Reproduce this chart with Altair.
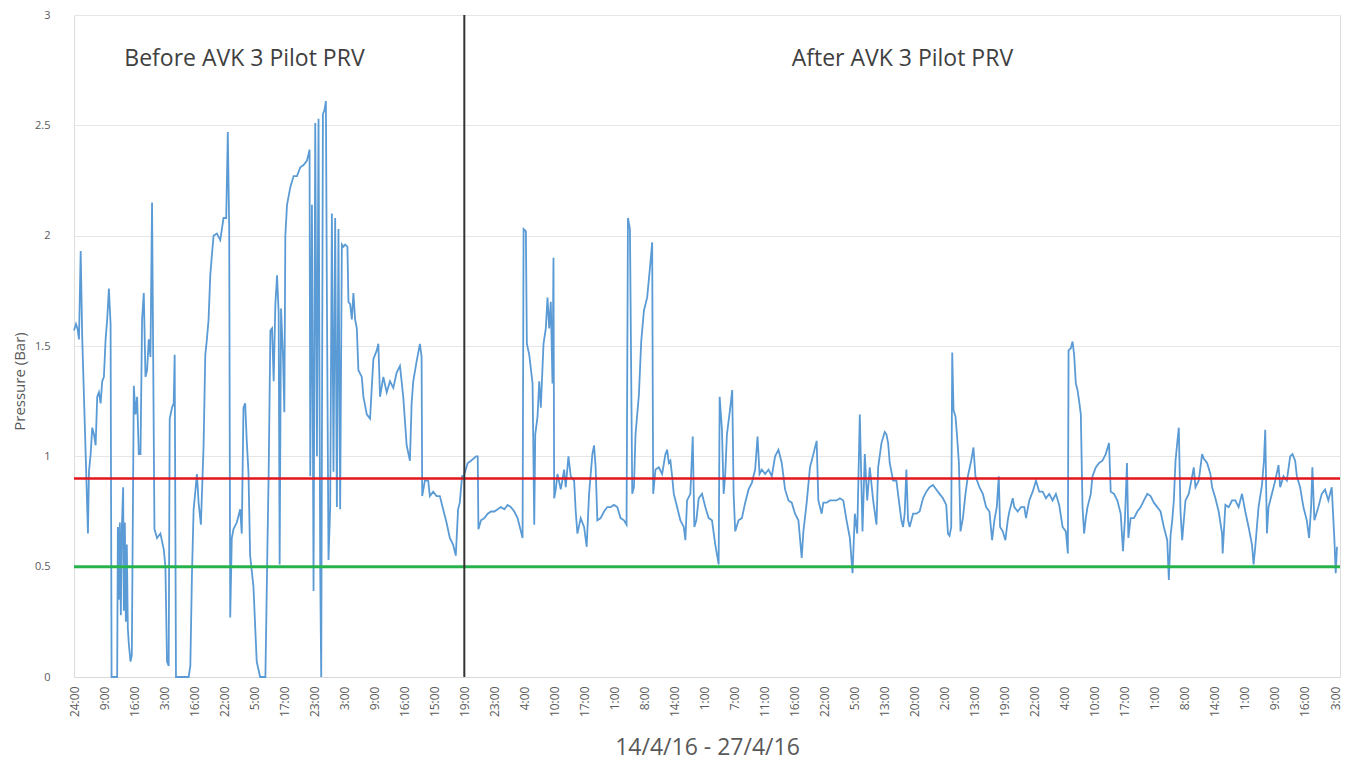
import altair as alt
import pandas as pd

# ---------------- data ----------------
X_LABELS = ["24:00", "9:00", "16:00", "3:00", "16:00", "22:00", "5:00", "17:00", "23:00", "3:00",
            "9:00", "16:00", "15:00", "19:00", "23:00", "4:00", "10:00", "17:00", "1:00", "8:00",
            "14:00", "1:00", "7:00", "11:00", "16:00", "22:00", "5:00", "13:00", "20:00", "2:00",
            "13:00", "19:00", "22:00", "4:00", "10:00", "17:00", "1:00", "8:00", "14:00", "1:00",
            "9:00", "16:00", "3:00"]
LAST_LABEL_READING = 1265          # reading number carrying the last axis label
READING_DOMAIN = [0, 1270]
DIVIDER_LABEL_INDEX = 13           # "19:00" : valve installed

BEFORE_READING = [
    0, 2, 3.5, 5, 6.7, 8.3, 10, 11.7, 13.3, 14,
    15, 16.7, 18.3, 20, 21.7, 23.3, 25, 26.7, 28.3, 30,
    31.7, 33.3, 35, 36.7, 37.7, 40, 43.3, 44, 45, 46,
    47, 48, 49.3, 50, 51, 52, 53, 54, 55, 56.7,
    58, 60, 61.7, 63.3, 65, 66.7, 68.3, 70, 71.7, 73.3,
    75, 76.7, 78.3, 79.3, 80.7, 83.3, 86.7, 90, 91.7, 93.3,
    95, 96, 98.3, 100, 101, 102.3, 108, 115, 116.7, 118.3,
    120, 121.7, 123.3, 125, 127.3, 130, 131.7, 133.3, 135, 136.7,
    138.3, 140, 143.3, 146.7, 150, 152.7, 154.3, 155.7, 156.7, 158.3,
    160, 163.3, 166.7, 168.3, 170, 171.7, 173.3, 175, 176.7, 180,
    183.3, 186.7, 192, 194, 195.3, 197, 198.7, 200.3, 202, 203.7,
    205.3, 206.3, 207.7, 209.7, 211, 212, 213.7, 217, 220.3, 223.7,
    227, 230.3, 233.7, 236.3, 237, 238.7, 240.3, 242, 243.7, 245.3,
    247, 248, 249.7, 251.3, 252.7, 253.7, 255.3, 257, 258.7, 260.3,
    262, 263.7, 265.3, 267, 268.7, 270.3, 272, 274.3, 275.3, 277,
    278.7, 280.3, 282, 283.7, 285.3, 288.7, 290.3, 293.7, 297, 300.3,
    303.7, 305.3, 307, 310.3, 313.7, 317, 320.3, 323.7, 327, 330.3,
    333.7, 337, 338.7, 340.3, 343.7, 347, 348.7, 349.3, 352, 355.3,
    357, 360.3, 363.7, 367, 370.3, 373.7, 377, 380.3, 383, 385.3,
    387, 389.3]
BEFORE_PRESSURE = [
    1.57, 1.60, 1.58, 1.53, 1.93, 1.53, 1.27, 1.01, 0.76, 0.65,
    0.93, 1.01, 1.13, 1.10, 1.05, 1.27, 1.29, 1.24, 1.34, 1.36,
    1.53, 1.62, 1.76, 1.60, 0, 0, 0, 0.68, 0.35, 0.70,
    0.28, 0.68, 0.86, 0.30, 0.70, 0.25, 0.60, 0.22, 0.15, 0.07,
    0.10, 1.32, 1.19, 1.27, 1.01, 1.01, 1.62, 1.74, 1.36, 1.39,
    1.53, 1.45, 2.15, 1.53, 0.67, 0.63, 0.65, 0.58, 0.50, 0.07,
    0.05, 1.17, 1.22, 1.24, 1.46, 0, 0, 0, 0.05, 0.46,
    0.76, 0.84, 0.92, 0.79, 0.69, 1.05, 1.46, 1.53, 1.62, 1.82,
    1.91, 2.00, 2.01, 1.98, 2.08, 2.08, 2.47, 2.03, 0.27, 0.63,
    0.67, 0.70, 0.76, 0.65, 1.22, 1.24, 1.07, 0.93, 0.55, 0.41,
    0.07, 0, 0, 0.58, 0.93, 1.57, 1.58, 1.34, 1.69, 1.82,
    1.65, 0.51, 1.67, 1.45, 1.20, 2.00, 2.14, 2.22, 2.27, 2.27,
    2.31, 2.32, 2.34, 2.39, 0.91, 2.14, 0.39, 2.51, 1.00, 2.53,
    0.48, 0, 2.55, 2.57, 2.61, 1.72, 0.53, 0.77, 2.10, 0.93,
    2.08, 0.77, 2.03, 0.76, 1.96, 1.95, 1.96, 1.95, 1.70, 1.69,
    1.62, 1.74, 1.62, 1.58, 1.39, 1.36, 1.27, 1.19, 1.17, 1.44,
    1.48, 1.51, 1.27, 1.36, 1.29, 1.34, 1.31, 1.38, 1.41, 1.27,
    1.05, 0.98, 1.24, 1.34, 1.43, 1.51, 1.45, 0.82, 0.89, 0.89,
    0.82, 0.84, 0.82, 0.82, 0.76, 0.70, 0.63, 0.60, 0.55, 0.76,
    0.79, 0.91]

AFTER_READING = [
    391, 395, 398.3, 403.3, 405, 405.7, 408.3, 411.7, 415, 418.3,
    421.7, 425, 428.3, 431.7, 435, 438.3, 441.7, 445, 448.3, 450,
    451, 453.3, 454.3, 456.7, 460, 461.7, 462.7, 465, 466.7, 468.3,
    471, 473.3, 475, 476.7, 478.3, 480, 481, 481.7, 483.3, 485,
    488.3, 491.7, 493.3, 496, 498.3, 501.7, 503.3, 505, 508.3, 511.7,
    514.3, 516.7, 520, 521.7, 523.3, 525, 528.3, 531.7, 535, 538.3,
    541.7, 545, 548.3, 551.7, 554.3, 555.7, 557.7, 560, 561.7, 563.3,
    566.7, 569, 571.7, 575, 578.3, 580, 581, 583.3, 586.7, 590,
    593.3, 595, 596.7, 598.3, 600, 601.7, 605, 608.3, 611.7, 613.3,
    615, 618.3, 620.7, 622.3, 624.3, 626.7, 630, 633.3, 636.7, 640,
    643.3, 646.7, 647.7, 650, 651.7, 653.3, 655, 658.3, 660.3, 661.7,
    663.3, 666.7, 670, 673.3, 676.7, 680, 683.3, 685.7, 687.7, 690,
    693.3, 696.7, 700, 703.3, 706.7, 710, 713.3, 716.7, 720, 723.3,
    726.7, 730, 731.7, 735, 738.3, 741.7, 745, 746.7, 750, 751.7,
    755, 758.3, 761.7, 765, 768.3, 771.7, 775, 778.3, 781, 783.3,
    785.7, 788.3, 791, 793.3, 795.7, 798.3, 801.7, 805, 806.7, 810,
    813.3, 815, 816.7, 818.3, 821.7, 825, 828.3, 830, 831.7, 833.3,
    835, 836.7, 838.3, 841.7, 845, 848.3, 851.7, 855, 858.3, 861.7,
    865, 868.3, 871.7, 875, 876.7, 878.3, 880, 881, 882.3, 884.3,
    885.7, 887.7, 889.3, 891.7, 894.3, 896.7, 900, 902.3, 904.3, 906.7,
    908.3, 911.7, 915, 918.3, 921, 923.3, 925.7, 927.7, 929, 931.7,
    934.3, 936.7, 938.3, 941.7, 943.3, 946.7, 950, 953.3, 955, 958.3,
    961.7, 965, 968.3, 971.7, 975, 978.3, 981.7, 985, 988.3, 991.7,
    995, 997, 997.7, 1000, 1001.7, 1003.3, 1005, 1006.7, 1008.3, 1010,
    1011.7, 1013.3, 1015, 1016.7, 1020, 1021.7, 1025, 1028.3, 1031.7, 1035,
    1038.3, 1040, 1043.3, 1046.7, 1050, 1052.3, 1054.3, 1056.3, 1057.7, 1060,
    1063.3, 1066.7, 1070, 1073.3, 1076.7, 1080, 1083.3, 1086.7, 1090, 1093.3,
    1096.7, 1098.3, 1100, 1101.7, 1103.3, 1105, 1106.7, 1108.3, 1110, 1111.7,
    1113.3, 1115, 1118.3, 1121.7, 1123.3, 1125, 1128.3, 1131.7, 1133.3, 1136.7,
    1140, 1141.7, 1145, 1148.3, 1151.7, 1152.3, 1155, 1158.3, 1161.7, 1165,
    1168.3, 1171.7, 1175, 1178.3, 1181.7, 1183.3, 1185, 1188.3, 1191.7, 1193.7,
    1195, 1196.7, 1198.3, 1201.7, 1205, 1208.3, 1210, 1213.3, 1216.7, 1220,
    1222.3, 1225, 1226.7, 1230, 1233.3, 1236.7, 1239, 1241, 1242.3, 1244.3,
    1248.3, 1251.7, 1255, 1258.3, 1261.7, 1264.3, 1265.7, 1267]
AFTER_PRESSURE = [
    0.91, 0.97, 0.98, 1.00, 1.00, 0.67, 0.71, 0.72, 0.74, 0.75,
    0.75, 0.76, 0.77, 0.76, 0.78, 0.77, 0.75, 0.72, 0.66, 0.63,
    2.03, 2.02, 1.51, 1.46, 1.33, 0.69, 1.10, 1.18, 1.34, 1.22,
    1.51, 1.58, 1.72, 1.58, 1.70, 1.33, 1.90, 0.81, 0.85, 0.92,
    0.85, 0.94, 0.86, 1.00, 0.91, 0.89, 0.75, 0.65, 0.72, 0.68,
    0.59, 0.83, 1.01, 1.05, 0.95, 0.71, 0.72, 0.75, 0.77, 0.77,
    0.78, 0.77, 0.72, 0.71, 0.69, 2.08, 2.03, 0.83, 0.86, 1.10,
    1.28, 1.52, 1.66, 1.72, 1.88, 1.97, 0.83, 0.94, 0.95, 0.92,
    1.01, 1.03, 0.97, 0.98, 0.91, 0.83, 0.77, 0.71, 0.68, 0.62,
    0.80, 0.83, 1.09, 0.68, 0.71, 0.81, 0.83, 0.77, 0.72, 0.71,
    0.60, 0.51, 1.27, 1.12, 0.83, 0.92, 1.10, 1.22, 1.30, 0.83,
    0.66, 0.71, 0.72, 0.79, 0.85, 0.88, 0.94, 1.09, 0.92, 0.94,
    0.92, 0.94, 0.91, 1.00, 1.03, 0.97, 0.85, 0.80, 0.79, 0.74,
    0.71, 0.54, 0.66, 0.79, 0.95, 1.01, 1.07, 0.80, 0.74, 0.79,
    0.79, 0.80, 0.80, 0.80, 0.81, 0.80, 0.71, 0.63, 0.47, 0.74,
    0.65, 1.19, 0.66, 1.01, 0.80, 0.95, 0.80, 0.69, 0.95, 1.06,
    1.11, 1.10, 1.06, 0.97, 0.89, 0.89, 0.77, 0.71, 0.68, 0.74,
    0.94, 0.71, 0.68, 0.74, 0.74, 0.75, 0.81, 0.84, 0.86, 0.87,
    0.85, 0.83, 0.81, 0.78, 0.65, 0.64, 0.68, 1.47, 1.21, 1.18,
    1.10, 0.97, 0.66, 0.72, 0.83, 0.91, 0.98, 1.04, 0.91, 0.88,
    0.86, 0.83, 0.77, 0.75, 0.62, 0.71, 0.77, 0.91, 0.68, 0.66,
    0.62, 0.71, 0.75, 0.81, 0.77, 0.75, 0.77, 0.77, 0.72, 0.80,
    0.84, 0.89, 0.84, 0.84, 0.81, 0.83, 0.80, 0.83, 0.78, 0.68,
    0.66, 0.56, 1.48, 1.49, 1.52, 1.46, 1.33, 1.30, 1.25, 1.19,
    0.77, 0.65, 0.72, 0.77, 0.83, 0.91, 0.95, 0.97, 0.98, 1.01,
    1.06, 0.84, 0.83, 0.80, 0.74, 0.57, 0.72, 0.97, 0.63, 0.72,
    0.72, 0.75, 0.77, 0.80, 0.83, 0.82, 0.79, 0.77, 0.75, 0.68,
    0.62, 0.44, 0.64, 0.71, 0.80, 0.98, 1.06, 1.13, 0.75, 0.62,
    0.71, 0.80, 0.83, 0.91, 0.95, 0.86, 0.89, 1.01, 0.99, 0.97,
    0.92, 0.86, 0.81, 0.75, 0.65, 0.56, 0.78, 0.77, 0.80, 0.80,
    0.77, 0.83, 0.75, 0.68, 0.60, 0.51, 0.59, 0.77, 0.87, 0.98,
    1.12, 0.65, 0.77, 0.83, 0.89, 0.96, 0.86, 0.91, 0.89, 1.00,
    1.01, 0.98, 0.91, 0.86, 0.77, 0.71, 0.63, 0.77, 0.95, 0.71,
    0.77, 0.83, 0.85, 0.80, 0.86, 0.63, 0.47, 0.59]

UPPER_LIMIT = [0.9]
LOWER_LIMIT = [0.5]

ANNOT_TEXT = ["Before AVK 3 Pilot PRV", "After AVK 3 Pilot PRV"]
ANNOT_READING = [171, 831]
ANNOT_PRESSURE = [2.8, 2.8]

Y_TICKS = [0, 0.5, 1, 1.5, 2, 2.5, 3]

# ---------------- build ----------------
assert len(BEFORE_READING) == len(BEFORE_PRESSURE), (len(BEFORE_READING), len(BEFORE_PRESSURE))
assert len(AFTER_READING) == len(AFTER_PRESSURE), (len(AFTER_READING), len(AFTER_PRESSURE))

series = pd.DataFrame({
    "reading": BEFORE_READING + AFTER_READING,
    "pressure": BEFORE_PRESSURE + AFTER_PRESSURE,
})
series["order"] = range(len(series))

step = LAST_LABEL_READING / (len(X_LABELS) - 1)
tick_values = [round(i * step, 3) for i in range(len(X_LABELS))]
label_expr = "[" + ",".join("'" + s + "'" for s in X_LABELS) + "][round(datum.value / " + str(step) + ")]"

FONT = "Open Sans"
GREY = "#595959"

x_enc = alt.X(
    "reading:Q",
    scale=alt.Scale(domain=READING_DOMAIN, nice=False, zero=False),
    axis=alt.Axis(
        values=tick_values, labelExpr=label_expr, labelAngle=270,
        labelAlign="right", labelBaseline="middle", labelPadding=9,
        labelFontSize=12, labelColor=GREY, labelFont=FONT, labelOverlap=False,
        ticks=False, grid=False, domain=True, domainColor="#d9d9d9",
        title="14/4/16 -  27/4/16", titleFontSize=23, titleFont=FONT,
        titleColor=GREY, titleFontWeight="normal", titleX=633, titleY=70,
        titleBaseline="middle", titleAlign="center",
    ),
)
y_enc = alt.Y(
    "pressure:Q",
    scale=alt.Scale(domain=[0, 3], nice=False),
    axis=alt.Axis(
        values=Y_TICKS, format="~g", labelFontSize=11, labelColor=GREY,
        labelFont=FONT, labelPadding=24, ticks=False, domain=False,
        grid=True, gridColor="#e6e6e6", gridWidth=1,
        title="Pressure (Bar)", titleFontSize=15, titleFont=FONT,
        titleColor=GREY, titleFontWeight="normal", titleX=-47, titleY=366,
    ),
)

line = alt.Chart(series).mark_line(color="#5b9bd5", strokeWidth=1.8).encode(
    x=x_enc, y=y_enc, order="order:Q")

upper = alt.Chart(pd.DataFrame({"pressure": UPPER_LIMIT})).mark_rule(
    color="#e3141b", strokeWidth=2.5).encode(y=y_enc)
lower = alt.Chart(pd.DataFrame({"pressure": LOWER_LIMIT})).mark_rule(
    color="#27b34b", strokeWidth=3).encode(y=y_enc)
divider = alt.Chart(pd.DataFrame({"reading": [tick_values[DIVIDER_LABEL_INDEX]]})).mark_rule(
    color="#333333", strokeWidth=2).encode(x=x_enc)

annots = alt.Chart(pd.DataFrame({
    "reading": ANNOT_READING, "pressure": ANNOT_PRESSURE, "text": ANNOT_TEXT,
})).mark_text(font=FONT, fontSize=23, color="#404040", align="center",
              baseline="middle").encode(x=x_enc, y=y_enc, text="text:N")

chart = alt.layer(line, upper, lower, divider, annots).properties(
    width=1266, height=662,
    autosize=alt.AutoSizeParams(type="none"),
    padding={"left": 66, "top": 7, "right": 6, "bottom": 84},
).configure_view(stroke=None).configure(background="white")

chart.save("out.html", embed_options={"renderer": "svg", "actions": False})
